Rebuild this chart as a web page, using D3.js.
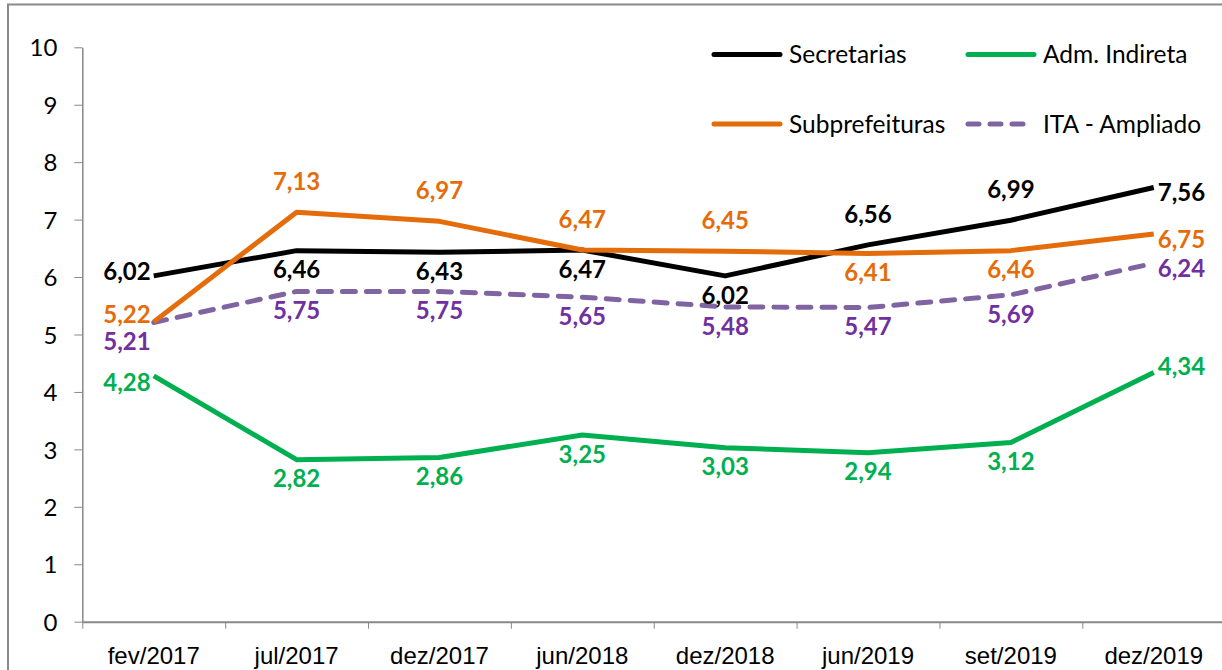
<!DOCTYPE html>
<html>
<head>
<meta charset="utf-8">
<script src="https://cdn.jsdelivr.net/npm/d3@7"></script>
<style>
  body { margin: 0; background: #fff; }
  svg { display: block; font-family: Lato, "Open Sans", sans-serif; }
  .axis path, .axis line { stroke: #898989; }
  .axis text { font-size: 24px; fill: #000; }
  .lbl { font-size: 24px; font-weight: bold; }
  .leg text { font-size: 24.5px; fill: #000; }
</style>
</head>
<body>
<svg width="1222" height="670"></svg>
<script>
// categorias (eixo x)
var categories = ["fev/2017", "jul/2017", "dez/2017", "jun/2018", "dez/2018", "jun/2019", "set/2019", "dez/2019"];

// séries
var secretarias   = [6.02, 6.46, 6.43, 6.47, 6.02, 6.56, 6.99, 7.56];
var admIndireta   = [4.28, 2.82, 2.86, 3.25, 3.03, 2.94, 3.12, 4.34];
var subprefeituras = [5.22, 7.13, 6.97, 6.47, 6.45, 6.41, 6.46, 6.75];
var itaAmpliado   = [5.21, 5.75, 5.75, 5.65, 5.48, 5.47, 5.69, 6.24];

var yTicks = [0, 1, 2, 3, 4, 5, 6, 7, 8, 9, 10];

// posição dos rótulos (l = esquerda, r = direita, t = acima, b = abaixo)
var pos = {
  sec: ["l", "b", "b", "b", "b", "t", "t", "r"],
  adm: ["lm", "b", "b", "b", "b", "b", "b", "ra"],
  sub: ["lt", "t", "t", "t", "t", "b", "b", "r"],
  ita: ["lb", "b", "b", "b", "b", "b", "b", "r"]
};

var series = [
  {key: "sec", name: "Secretarias", values: secretarias, color: "#000000", text: "#000000", dash: null},
  {key: "adm", name: "Adm. Indireta", values: admIndireta, color: "#00b050", text: "#00b050", dash: null},
  {key: "sub", name: "Subprefeituras", values: subprefeituras, color: "#e46c0a", text: "#e46c0a", dash: null},
  {key: "ita", name: "ITA - Ampliado", values: itaAmpliado, color: "#8064a2", text: "#7030a0", dash: "13,11"}
];

var svg = d3.select("svg");

// moldura (cortada à direita e embaixo)
svg.append("rect")
  .attr("x", 8).attr("y", 4.5)
  .attr("width", 1300).attr("height", 800)
  .attr("fill", "none")
  .attr("stroke", "#8a8a8a")
  .attr("stroke-width", 2);

var x0 = 82.3, step = 142.86;
var x = d3.scaleBand()
  .domain(categories)
  .range([x0, x0 + step * categories.length]);

var xi = d3.scaleLinear()
  .domain([0, categories.length])
  .range([x0, x0 + step * categories.length]);

var y = d3.scaleLinear()
  .domain([0, 10])
  .range([621.7, 47.3]);

function cx(i) { return x(categories[i]) + x.bandwidth() / 2; }

// eixo y
var gy = svg.append("g")
  .attr("class", "axis")
  .attr("transform", "translate(" + x0 + ",0)")
  .call(d3.axisLeft(y).tickValues(yTicks).tickSize(8).tickSizeOuter(0).tickPadding(17));
gy.select(".domain").attr("stroke-width", 1.5);
gy.selectAll("text").attr("dy", "0.36em").style("font-family", "Lato");

// eixo x: marcas nas divisas das categorias
var gx = svg.append("g")
  .attr("class", "axis")
  .attr("transform", "translate(0," + y(0) + ")")
  .call(d3.axisBottom(xi).tickValues(d3.range(0, categories.length + 1)).tickSize(7).tickSizeOuter(0).tickFormat(""));
gx.select(".domain").attr("stroke-width", 2);

// rótulos das categorias
svg.append("g")
  .attr("class", "axis")
  .attr("transform", "translate(0," + y(0) + ")")
  .call(d3.axisBottom(x).tickSize(0).tickPadding(25))
  .call(function(g) { g.select(".domain").remove(); })
  .selectAll("text").attr("dy", "0.72em");

// linhas
var line = d3.line()
  .x(function(d, i) { return cx(i); })
  .y(function(d) { return y(d); });

var drawOrder = [series[3], series[1], series[0], series[2]];
svg.append("g").selectAll("path")
  .data(drawOrder)
  .enter().append("path")
  .attr("d", function(s) { return line(s.values); })
  .attr("fill", "none")
  .attr("stroke", function(s) { return s.color; })
  .attr("stroke-width", 5)
  .attr("stroke-linejoin", "round")
  .attr("stroke-linecap", function(s) { return s.dash ? "round" : "butt"; })
  .attr("stroke-dasharray", function(s) { return s.dash; });

// rótulos de dados
var offs = {
  l:  {dx: -3, dy: -5, anchor: "end"},
  lt: {dx: -3, dy: -8, anchor: "end"},
  lm: {dx: -3, dy: 7, anchor: "end"},
  lb: {dx: -3, dy: 19, anchor: "end"},
  r:  {dx: 4, dy: 5, anchor: "start"},
  ra: {dx: 4, dy: -6, anchor: "start"},
  t:  {dx: 0, dy: -31, anchor: "middle"},
  b:  {dx: 0, dy: 19, anchor: "middle"}
};
var fmt = function(v) { return d3.format(".2f")(v).replace(".", ","); };

series.forEach(function(s) {
  svg.append("g").selectAll("text")
    .data(s.values)
    .enter().append("text")
    .attr("class", "lbl")
    .attr("fill", s.text)
    .attr("x", function(d, i) { return cx(i) + offs[pos[s.key][i]].dx; })
    .attr("y", function(d, i) { return y(d) + offs[pos[s.key][i]].dy; })
    .attr("dy", "0.36em")
    .attr("text-anchor", function(d, i) { return offs[pos[s.key][i]].anchor; })
    .text(fmt);
});

// legenda
var legPos = [[712, 54.5], [966, 54.5], [712, 124], [966, 124]];
var leg = svg.append("g").attr("class", "leg")
  .selectAll("g")
  .data(series)
  .enter().append("g")
  .attr("transform", function(s, i) { return "translate(" + legPos[i][0] + "," + legPos[i][1] + ")"; });

leg.append("line")
  .attr("x1", 2).attr("x2", function(s) { return s.dash ? 62 : 68; })
  .attr("stroke", function(s) { return s.color; })
  .attr("stroke-width", 5)
  .attr("stroke-linecap", "round")
  .attr("stroke-dasharray", function(s) { return s.dash ? "11,11" : null; });

leg.append("text")
  .attr("x", 77)
  .attr("dy", "0.36em")
  .text(function(s) { return s.name; });
</script>
</body>
</html>
